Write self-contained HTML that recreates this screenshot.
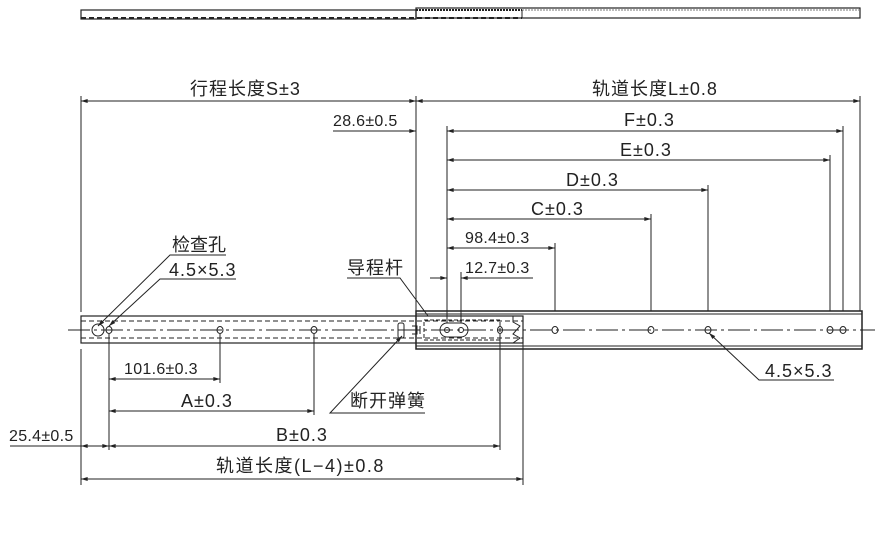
<!DOCTYPE html>
<html><head><meta charset="utf-8"><style>
html,body{margin:0;padding:0;background:#fff}
svg{display:block}
text{font-family:"Liberation Sans","Noto Sans CJK SC",sans-serif;font-size:18px;fill:#222;letter-spacing:1px}
.s{font-size:16px;letter-spacing:0.3px}
</style></head><body>
<svg width="894" height="543" viewBox="0 0 894 543" xmlns="http://www.w3.org/2000/svg">
<defs>
<marker id="a" viewBox="0 0 10 6" refX="10" refY="3" markerWidth="7" markerHeight="4" orient="auto-start-reverse"><path d="M0,0L10,3L0,6z" fill="#222"/></marker>
</defs>
<g stroke="#222" fill="none" stroke-width="1">
<rect x="81" y="10" width="335" height="9" stroke-width="1.2"/>
<line x1="81" y1="18" x2="522" y2="18" stroke-dasharray="5,3" stroke-width="2"/>
<rect x="416" y="8" width="444" height="10" stroke-width="1.2"/>
<line x1="416" y1="10" x2="522" y2="10" stroke-dasharray="2,1" stroke-width="2"/>
<line x1="522" y1="10" x2="860" y2="10" stroke-dasharray="2,1" stroke="#777"/>
<line x1="522" y1="10" x2="522" y2="18"/>

<rect x="81" y="316" width="442" height="27" stroke-width="1.2"/>
<line x1="81" y1="321" x2="523" y2="321" stroke-dasharray="5,3"/>
<line x1="81" y1="338" x2="523" y2="338" stroke-dasharray="5,3"/>
<rect x="416" y="311" width="446" height="38" stroke-width="1.5"/>
<line x1="416" y1="314" x2="862" y2="314"/>
<line x1="416" y1="346" x2="862" y2="346"/>
<rect x="424" y="320" width="76" height="20" stroke-dasharray="4,2"/>
<path d="M513,316 L513,322 L520,326 L513,334 L520,338 L513,343"/>
<line x1="68" y1="330" x2="875" y2="330" stroke-dasharray="22,4,3,4" stroke-width="0.9"/>
<circle cx="98" cy="330" r="6"/>
<ellipse cx="109" cy="330" rx="3" ry="3.5"/>
<ellipse cx="220" cy="330" rx="3" ry="3.5"/>
<ellipse cx="314" cy="330" rx="3" ry="3.5"/>
<ellipse cx="500" cy="330" rx="2.5" ry="3.5"/>
<path d="M447,323 h14 a7,7 0 0 1 0,14 h-14 a7,7 0 0 1 0,-14z"/>
<circle cx="447" cy="330" r="2.5"/><circle cx="461" cy="330" r="2.5"/>
<ellipse cx="555" cy="330" rx="3" ry="3.5"/>
<ellipse cx="651" cy="330" rx="3" ry="3.5"/>
<ellipse cx="708" cy="330" rx="3" ry="3.5"/>
<ellipse cx="830" cy="330" rx="3" ry="3.5"/>
<ellipse cx="843" cy="330" rx="3" ry="3.5"/>
<rect x="398" y="323" width="6" height="15" rx="2"/>
<path d="M412,326 h5 v8 h-5 M420,326 v8"/>

<line x1="81" y1="96" x2="81" y2="312"/>
<line x1="416" y1="96" x2="416" y2="311"/>
<line x1="860" y1="96" x2="860" y2="311"/>
<line x1="447" y1="126" x2="447" y2="323"/>
<line x1="461" y1="272" x2="461" y2="323"/>
<line x1="843" y1="126" x2="843" y2="311"/>
<line x1="830" y1="155" x2="830" y2="311"/>
<line x1="708" y1="185" x2="708" y2="311"/>
<line x1="651" y1="214" x2="651" y2="311"/>
<line x1="555" y1="243" x2="555" y2="311"/>
<line x1="81" y1="349" x2="81" y2="485"/>
<line x1="109" y1="334" x2="109" y2="450"/>
<line x1="220" y1="334" x2="220" y2="383"/>
<line x1="314" y1="334" x2="314" y2="415"/>
<line x1="500" y1="334" x2="500" y2="450"/>
<line x1="523" y1="343" x2="523" y2="485"/>

<line x1="81" y1="101" x2="416" y2="101" marker-start="url(#a)" marker-end="url(#a)"/>
<line x1="416" y1="101" x2="860" y2="101" marker-start="url(#a)" marker-end="url(#a)"/>
<line x1="333" y1="131" x2="416" y2="131" marker-end="url(#a)"/>
<line x1="447" y1="131" x2="843" y2="131" marker-start="url(#a)" marker-end="url(#a)"/>
<line x1="447" y1="160" x2="830" y2="160" marker-start="url(#a)" marker-end="url(#a)"/>
<line x1="447" y1="190" x2="708" y2="190" marker-start="url(#a)" marker-end="url(#a)"/>
<line x1="447" y1="219" x2="651" y2="219" marker-start="url(#a)" marker-end="url(#a)"/>
<line x1="447" y1="248" x2="555" y2="248" marker-start="url(#a)" marker-end="url(#a)"/>
<line x1="430" y1="278" x2="447" y2="278" marker-end="url(#a)"/>
<line x1="475" y1="278" x2="461" y2="278" marker-end="url(#a)"/>
<line x1="461" y1="278" x2="533" y2="278"/>
<line x1="109" y1="379" x2="220" y2="379" marker-start="url(#a)" marker-end="url(#a)"/>
<line x1="109" y1="411" x2="314" y2="411" marker-start="url(#a)" marker-end="url(#a)"/>
<line x1="10" y1="446" x2="81" y2="446"/>
<line x1="81" y1="446" x2="109" y2="446" marker-start="url(#a)" marker-end="url(#a)"/>
<line x1="109" y1="446" x2="500" y2="446" marker-start="url(#a)" marker-end="url(#a)"/>
<line x1="81" y1="479" x2="523" y2="479" marker-start="url(#a)" marker-end="url(#a)"/>

<polyline points="226,255 170,255 98,326" marker-end="url(#a)"/>
<polyline points="236,279 160,279 109,326" marker-end="url(#a)"/>
<polyline points="347,278 400,278 428,316"/>
<polyline points="425,413 330,413 402,336" marker-end="url(#a)"/>
<polyline points="834,380 759,380 709,333" marker-end="url(#a)"/>
</g>
<text x="190" y="95">行程长度S±3</text>
<text x="592" y="95">轨道长度L±0.8</text>
<text class="s" x="333" y="126">28.6±0.5</text>
<text x="624" y="126">F±0.3</text>
<text x="620" y="156">E±0.3</text>
<text x="566" y="186">D±0.3</text>
<text x="531" y="215">C±0.3</text>
<text class="s" x="465" y="243">98.4±0.3</text>
<text class="s" x="465" y="273">12.7±0.3</text>
<text x="347" y="274">导程杆</text>
<text x="172" y="251" style="letter-spacing:0">检查孔</text>
<text x="169" y="276">4.5×5.3</text>
<text class="s" x="124" y="374">101.6±0.3</text>
<text x="181" y="407">A±0.3</text>
<text x="350" y="407">断开弹簧</text>
<text class="s" x="9" y="441">25.4±0.5</text>
<text x="276" y="441">B±0.3</text>
<text x="216" y="472" style="letter-spacing:1.5px">轨道长度(L−4)±0.8</text>
<text x="765" y="377">4.5×5.3</text>
</svg>
</body></html>
